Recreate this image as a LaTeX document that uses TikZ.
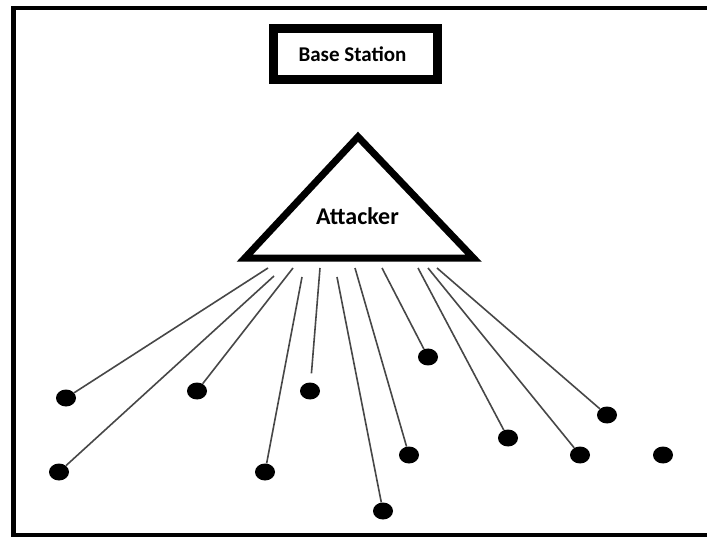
\documentclass[tikz,border=0pt]{standalone}
\usepackage{fontspec}
\setmainfont{Carlito}
\usetikzlibrary{shapes.geometric}

\tikzset{
  frame/.style={line width=4.5pt, draw=black, line join=miter},
  bsbox/.style={draw=black, line width=9pt, minimum width=164pt, minimum height=51pt,
    inner sep=0pt, font=\fontsize{21}{24}\selectfont\bfseries},
  attack/.style={draw=black, line width=7pt, line join=miter},
  label/.style={font=\fontsize{24}{28}\selectfont\bfseries, inner sep=0pt},
  sensor/.style={ellipse, fill=black, minimum width=20pt, minimum height=17pt, inner sep=0pt},
  link/.style={draw=black!72, line width=1.6pt}
}

\begin{document}
\begin{tikzpicture}[x=1pt, y=-1pt]
  \useasboundingbox (0,0) rectangle (707,537);
  \clip (0,0) rectangle (707,537);
  \fill[white] (0,0) rectangle (707,537);

  % outer frame, open on the right
  \draw[frame] (740,8) -- (13.3,8) -- (13.3,535) -- (740,535);

  % base station
  \node[bsbox] (bs) at (355.5,54) {\hspace*{-6pt}Base Station};

  % attacker triangle
  \coordinate (apex) at (358.0,136.8);
  \coordinate (bl) at (244.7,258.2);
  \coordinate (br) at (473.6,258.2);
  \draw[attack] (apex) -- (bl) -- (br) -- cycle;
  \node[label] (att) at (357.5,216) {Attacker};

  % starting points of the links under the triangle
  \coordinate (s1) at (268,268);
  \coordinate (s2) at (274,276);
  \coordinate (s3) at (293,268);
  \coordinate (s4) at (302,277);
  \coordinate (s5) at (320,268);
  \coordinate (s6) at (337,277);
  \coordinate (s7) at (355,268);
  \coordinate (s8) at (382,268);
  \coordinate (s9) at (418,268);
  \coordinate (s10) at (428,268);
  \coordinate (s11) at (437,268);

  % sensor nodes
  \node[sensor] (d1) at (66,398) {};
  \node[sensor] (d2) at (59,472) {};
  \node[sensor] (d3) at (197,391) {};
  \node[sensor] (d4) at (265,472) {};
  \node[sensor] (d5) at (310,391) {};
  \node[sensor] (d6) at (383,511) {};
  \node[sensor] (d7) at (409,455) {};
  \node[sensor] (d8) at (428,357) {};
  \node[sensor] (d9) at (508,438) {};
  \node[sensor] (d10) at (580,455) {};
  \node[sensor] (d11) at (607,415) {};
  \node[sensor] (d12) at (663,455) {};

  % links
  \draw[link] (s1) -- (d1);
  \draw[link] (s2) -- (d2);
  \draw[link] (s3) -- (d3);
  \draw[link] (s4) -- (d4);
  \draw[link, shorten >=9pt] (s5) -- (d5);
  \draw[link] (s6) -- (d6);
  \draw[link] (s7) -- (d7);
  \draw[link] (s8) -- (d8);
  \draw[link] (s9) -- (d9);
  \draw[link] (s10) -- (d10);
  \draw[link] (s11) -- (d11);
\end{tikzpicture}
\end{document}
